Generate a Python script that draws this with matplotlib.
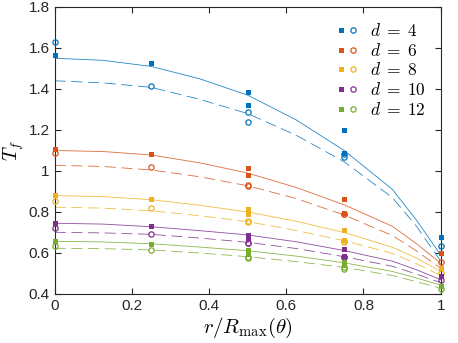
import numpy as np
import matplotlib
matplotlib.use("Agg")
import matplotlib.pyplot as plt
from matplotlib.legend_handler import HandlerTuple
from matplotlib.ticker import FuncFormatter

plt.rcParams['font.family'] = ['Liberation Sans', 'DejaVu Sans']
plt.rcParams['mathtext.fontset'] = 'cm'
plt.rcParams['lines.scale_dashes'] = False

# data
d_vals = [4, 6, 8, 10, 12]
colors = ['#0072BD', '#D95319', '#EDB120', '#7E2F8E', '#77AC30']

r_pts = [0, 0.25, 0.5, 0.5, 0.75, 0.75, 1]
filled = [
    [1.567, 1.528, 1.387, 1.320, 1.201, 1.089, 0.680],
    [1.107, 1.081, 1.013, 0.982, 0.862, 0.795, 0.598],
    [0.881, 0.862, 0.813, 0.790, 0.711, 0.663, 0.527],
    [0.746, 0.730, 0.690, 0.673, 0.618, 0.585, 0.486],
    [0.657, 0.642, 0.615, 0.595, 0.558, 0.540, 0.440],
]
hollow = [
    [1.631, 1.416, 1.289, 1.237, 1.081, 1.070, 0.634],
    [1.089, 1.021, 0.932, 0.926, 0.792, 0.788, 0.556],
    [0.854, 0.818, 0.755, 0.751, 0.660, 0.656, 0.500],
    [0.722, 0.694, 0.651, 0.648, 0.582, 0.578, 0.468],
    [0.634, 0.615, 0.578, 0.575, 0.534, 0.522, 0.425],
]

r_fit = [0, 0.125, 0.25, 0.375, 0.5, 0.625, 0.75, 0.875, 0.9375, 1]
solid_fit = [
    [1.550, 1.540, 1.510, 1.450, 1.370, 1.250, 1.100, 0.910, 0.760, 0.590],
    [1.100, 1.095, 1.078, 1.040, 0.990, 0.920, 0.835, 0.730, 0.645, 0.550],
    [0.880, 0.875, 0.860, 0.833, 0.800, 0.755, 0.700, 0.628, 0.575, 0.510],
    [0.745, 0.741, 0.728, 0.709, 0.688, 0.655, 0.612, 0.560, 0.518, 0.470],
    [0.657, 0.654, 0.645, 0.629, 0.611, 0.585, 0.552, 0.510, 0.478, 0.443],
]
dashed_fit = [
    [1.440, 1.430, 1.408, 1.350, 1.280, 1.175, 1.045, 0.870, 0.730, 0.560],
    [1.028, 1.022, 1.005, 0.972, 0.928, 0.866, 0.785, 0.685, 0.610, 0.525],
    [0.823, 0.819, 0.806, 0.782, 0.753, 0.710, 0.660, 0.598, 0.548, 0.490],
    [0.701, 0.698, 0.691, 0.673, 0.652, 0.622, 0.582, 0.535, 0.497, 0.455],
    [0.623, 0.621, 0.615, 0.600, 0.582, 0.558, 0.530, 0.490, 0.460, 0.428],
]

fig = plt.figure(figsize=(4.58, 3.43), dpi=100)
ax = fig.add_axes([0.1194, 0.1429, 0.8428, 0.8367])

handles = []
for i, d in enumerate(d_vals):
    c = colors[i]
    ax.plot(r_fit, solid_fit[i], '-', color=c, lw=0.6, alpha=0.85)
    ax.plot(r_fit, dashed_fit[i], color=c, lw=0.6, alpha=0.85, linestyle=(0, (8, 4)))
    sq, = ax.plot(r_pts, filled[i], 's', color=c, ms=3.6, mew=0, clip_on=False, zorder=3)
    ci, = ax.plot(r_pts, hollow[i], 'o', mfc='none', mec=c, ms=3.8, mew=0.9, clip_on=False, zorder=3)
    handles.append((sq, ci))

ax.set_xlim(0, 1)
ax.set_ylim(0.4, 1.8)
ax.set_xticks(np.arange(0, 1.01, 0.2))
ax.set_yticks(np.arange(0.4, 1.81, 0.2))
fmt = FuncFormatter(lambda v, p: '%g' % round(v, 2))
ax.xaxis.set_major_formatter(fmt)
ax.yaxis.set_major_formatter(fmt)
ax.tick_params(direction='in', top=True, right=True, labelsize=11, length=4, width=0.8, colors='#262626')
for s in ax.spines.values():
    s.set_linewidth(0.8)
    s.set_color('#262626')

ax.set_xlabel(r'$r/R_{\max}(\theta)$', fontsize=15, labelpad=2)
ax.set_ylabel(r'$T_f$', fontsize=14, labelpad=2)

ax.legend(handles, [r'$d\;=\;%d$' % d for d in d_vals],
          handler_map={tuple: HandlerTuple(ndivide=None, pad=0)},
          loc='upper right', bbox_to_anchor=(0.96, 0.948), frameon=False,
          borderpad=0, borderaxespad=0,
          fontsize=12.5, handlelength=1.3, handletextpad=0.65, labelspacing=0.16)

fig.savefig('out.png', dpi=100)
